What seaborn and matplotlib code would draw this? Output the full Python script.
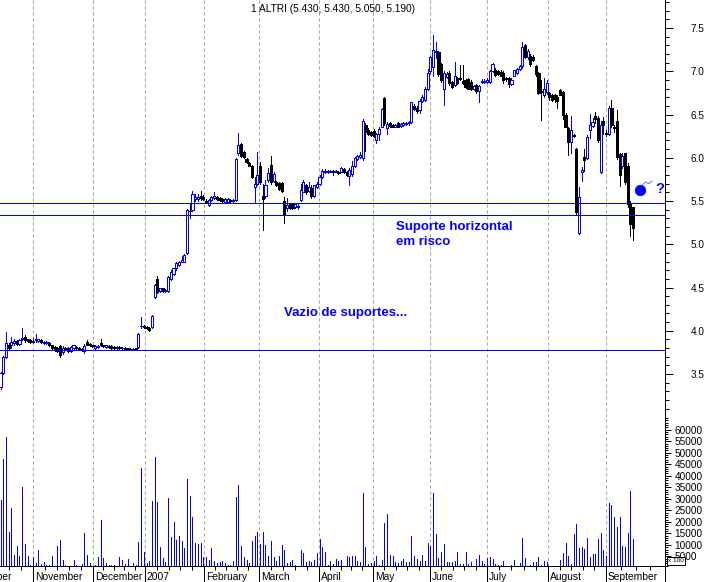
import numpy as np
import pandas as pd
import matplotlib
matplotlib.use("Agg")
import matplotlib.pyplot as plt
import seaborn as sns
from matplotlib.ticker import MultipleLocator, FixedLocator

# ---------------- data (daily OHLC + volume, trading-day index 0..234) ----------------
opens = [
    3.35, 3.51, 3.70, 3.84, 3.84, 3.86, 3.88, 3.85, 3.90, 3.93,
    3.90, 3.89, 3.87, 3.89, 3.88, 3.89, 3.86, 3.86, 3.86, 3.83,
    3.81, 3.80, 3.82, 3.75, 3.80, 3.80, 3.77, 3.80, 3.81, 3.80,
    3.79, 3.77, 3.87, 3.85, 3.83, 3.80, 3.81, 3.86, 3.83, 3.81,
    3.82, 3.82, 3.81, 3.80, 3.81, 3.80, 3.80, 3.80, 3.79, 3.79,
    3.80, 3.81, 4.05, 4.06, 4.04, 4.03, 4.04, 4.39, 4.60, 4.46,
    4.49, 4.46, 4.46, 4.60, 4.66, 4.72, 4.76, 4.80, 4.80, 4.90,
    5.39, 5.40, 5.52, 5.52, 5.56, 5.55, 5.50, 5.45, 5.51, 5.53,
    5.55, 5.54, 5.52, 5.49, 5.49, 5.51, 5.50, 5.51, 6.05, 6.16,
    6.07, 5.99, 5.94, 5.90, 5.66, 5.70, 5.90, 5.56, 5.56, 5.74,
    5.92, 5.73, 5.72, 5.71, 5.71, 5.50, 5.42, 5.47, 5.46, 5.43,
    5.43, 5.51, 5.61, 5.68, 5.62, 5.65, 5.56, 5.66, 5.70, 5.78,
    5.83, 5.84, 5.84, 5.85, 5.84, 5.84, 5.84, 5.87, 5.84, 5.79,
    5.81, 5.90, 5.98, 6.01, 6.00, 6.38, 6.32, 6.30, 6.31, 6.20,
    6.27, 6.36, 6.69, 6.34, 6.40, 6.38, 6.36, 6.40, 6.37, 6.38,
    6.39, 6.40, 6.41, 6.60, 6.58, 6.55, 6.66, 6.67, 6.80, 7.00,
    7.05, 7.22, 7.22, 7.08, 6.80, 6.93, 6.98, 6.88, 6.84, 6.92,
    6.92, 6.89, 6.90, 6.91, 6.88, 6.79, 6.84, 6.77, 6.88, 6.88,
    6.88, 6.88, 7.00, 7.02, 7.00, 6.99, 6.98, 6.92, 6.92, 6.85,
    6.95, 6.98, 7.03, 7.06, 7.30, 7.16, 7.18, 7.17, 7.06, 6.98,
    6.77, 6.72, 6.76, 6.75, 6.73, 6.72, 6.70, 6.78, 6.76, 6.50,
    6.34, 6.18, 6.26, 6.10, 5.13, 5.84, 6.01, 6.00, 6.32, 6.37,
    6.48, 6.46, 5.84, 6.42, 6.29, 6.28, 6.58, 6.36, 6.42, 6.04,
    5.90, 6.05, 5.90, 5.47, 5.43,
]
highs = [
    3.52, 3.71, 3.99, 3.86, 3.93, 3.90, 3.89, 3.90, 4.03, 3.95,
    3.91, 3.90, 3.92, 3.96, 3.91, 3.90, 3.88, 3.88, 3.87, 3.84,
    3.82, 3.81, 3.83, 3.82, 3.81, 3.81, 3.82, 3.84, 3.82, 3.81,
    3.80, 3.85, 3.89, 3.86, 3.84, 3.83, 3.83, 3.90, 3.84, 3.84,
    3.83, 3.83, 3.82, 3.82, 3.82, 3.81, 3.81, 3.80, 3.80, 3.80,
    3.80, 3.97, 4.16, 4.07, 4.05, 4.04, 4.18, 4.54, 4.63, 4.50,
    4.50, 4.48, 4.63, 4.70, 4.73, 4.79, 4.81, 4.86, 4.89, 5.41,
    5.46, 5.62, 5.58, 5.58, 5.62, 5.57, 5.52, 5.52, 5.56, 5.60,
    5.56, 5.55, 5.53, 5.53, 5.53, 5.52, 5.52, 6.00, 6.29, 6.17,
    6.08, 6.00, 5.95, 5.92, 5.78, 6.07, 5.95, 5.70, 5.74, 5.88,
    6.02, 5.84, 5.73, 5.72, 5.72, 5.55, 5.54, 5.48, 5.47, 5.48,
    5.46, 5.70, 5.74, 5.70, 5.72, 5.68, 5.69, 5.72, 5.80, 5.87,
    5.87, 5.86, 5.86, 5.86, 5.86, 5.85, 5.89, 5.88, 5.85, 5.88,
    5.96, 6.01, 6.03, 6.07, 6.45, 6.40, 6.34, 6.31, 6.33, 6.29,
    6.36, 6.58, 6.70, 6.41, 6.41, 6.39, 6.39, 6.41, 6.40, 6.41,
    6.41, 6.42, 6.65, 6.62, 6.60, 6.68, 6.72, 6.82, 7.03, 7.18,
    7.42, 7.34, 7.24, 7.10, 7.00, 6.99, 7.00, 6.89, 7.11, 6.93,
    7.07, 7.07, 6.91, 6.92, 6.90, 6.84, 6.85, 6.84, 6.91, 6.91,
    6.92, 7.02, 7.09, 7.04, 7.01, 7.02, 7.00, 6.93, 6.93, 6.92,
    7.02, 7.04, 7.07, 7.34, 7.32, 7.26, 7.20, 7.19, 7.07, 6.99,
    6.90, 6.92, 6.90, 6.76, 6.74, 6.74, 6.72, 6.80, 6.77, 6.52,
    6.35, 6.48, 6.27, 6.11, 5.66, 5.89, 6.10, 6.26, 6.51, 6.46,
    6.53, 6.48, 6.42, 6.47, 6.32, 6.60, 6.67, 6.38, 6.55, 6.06,
    6.05, 6.06, 5.94, 5.50, 5.43,
]
lows = [
    3.33, 3.50, 3.69, 3.78, 3.80, 3.84, 3.84, 3.84, 3.89, 3.87,
    3.87, 3.86, 3.86, 3.87, 3.87, 3.86, 3.85, 3.85, 3.82, 3.79,
    3.77, 3.76, 3.70, 3.73, 3.78, 3.75, 3.76, 3.79, 3.79, 3.78,
    3.77, 3.74, 3.83, 3.82, 3.81, 3.79, 3.80, 3.82, 3.81, 3.80,
    3.80, 3.79, 3.79, 3.79, 3.79, 3.79, 3.79, 3.78, 3.78, 3.78,
    3.78, 3.80, 4.03, 4.03, 4.02, 4.00, 4.03, 4.38, 4.44, 4.45,
    4.45, 4.45, 4.45, 4.59, 4.65, 4.70, 4.75, 4.79, 4.79, 4.89,
    5.30, 5.38, 5.50, 5.50, 5.51, 5.51, 5.48, 5.44, 5.50, 5.52,
    5.51, 5.50, 5.49, 5.48, 5.48, 5.49, 5.49, 5.50, 6.03, 6.01,
    6.00, 5.94, 5.90, 5.77, 5.48, 5.68, 5.70, 5.16, 5.53, 5.72,
    5.70, 5.72, 5.67, 5.63, 5.61, 5.25, 5.38, 5.41, 5.41, 5.42,
    5.41, 5.50, 5.60, 5.58, 5.60, 5.53, 5.55, 5.65, 5.69, 5.77,
    5.82, 5.82, 5.83, 5.80, 5.83, 5.81, 5.83, 5.82, 5.79, 5.69,
    5.79, 5.89, 5.97, 6.00, 5.97, 6.08, 6.26, 6.25, 6.24, 6.17,
    6.20, 6.35, 6.38, 6.28, 6.36, 6.35, 6.35, 6.35, 6.36, 6.37,
    6.38, 6.38, 6.40, 6.55, 6.52, 6.52, 6.65, 6.66, 6.78, 6.98,
    6.95, 7.15, 6.95, 6.88, 6.61, 6.92, 6.84, 6.81, 6.83, 6.85,
    6.90, 6.85, 6.81, 6.79, 6.78, 6.78, 6.75, 6.65, 6.86, 6.87,
    6.87, 6.87, 6.99, 6.95, 6.96, 6.94, 6.87, 6.89, 6.82, 6.84,
    6.94, 6.97, 7.02, 7.04, 7.15, 7.14, 7.06, 7.12, 6.95, 6.74,
    6.44, 6.70, 6.74, 6.67, 6.66, 6.65, 6.58, 6.72, 6.45, 6.35,
    6.03, 6.05, 6.24, 5.35, 5.12, 5.73, 5.85, 5.98, 6.23, 6.35,
    6.40, 6.18, 5.82, 6.28, 6.25, 6.26, 6.35, 6.30, 5.98, 5.67,
    5.88, 5.70, 5.43, 5.09, 5.05,
]
closes = [
    3.51, 3.70, 3.86, 3.80, 3.87, 3.88, 3.85, 3.89, 3.92, 3.89,
    3.88, 3.87, 3.88, 3.91, 3.90, 3.87, 3.87, 3.87, 3.83, 3.80,
    3.78, 3.77, 3.72, 3.80, 3.79, 3.77, 3.81, 3.83, 3.80, 3.79,
    3.78, 3.82, 3.84, 3.83, 3.82, 3.82, 3.82, 3.83, 3.82, 3.83,
    3.81, 3.80, 3.80, 3.81, 3.80, 3.80, 3.79, 3.79, 3.78, 3.79,
    3.79, 3.96, 4.06, 4.04, 4.03, 4.01, 4.17, 4.53, 4.45, 4.49,
    4.46, 4.47, 4.62, 4.68, 4.72, 4.78, 4.80, 4.82, 4.88, 5.40,
    5.38, 5.58, 5.55, 5.55, 5.54, 5.52, 5.49, 5.51, 5.55, 5.56,
    5.52, 5.51, 5.50, 5.52, 5.52, 5.50, 5.51, 5.99, 6.15, 6.02,
    6.01, 5.95, 5.91, 5.78, 5.70, 5.80, 5.72, 5.52, 5.69, 5.82,
    5.72, 5.81, 5.68, 5.64, 5.62, 5.34, 5.45, 5.42, 5.42, 5.47,
    5.44, 5.63, 5.72, 5.60, 5.66, 5.56, 5.68, 5.70, 5.78, 5.85,
    5.85, 5.85, 5.85, 5.84, 5.85, 5.82, 5.88, 5.83, 5.80, 5.86,
    5.90, 6.00, 6.02, 6.03, 6.42, 6.30, 6.28, 6.26, 6.25, 6.28,
    6.33, 6.56, 6.40, 6.39, 6.37, 6.36, 6.38, 6.36, 6.39, 6.40,
    6.40, 6.41, 6.64, 6.56, 6.54, 6.66, 6.70, 6.80, 6.98, 7.16,
    7.25, 7.24, 6.97, 6.90, 6.98, 6.97, 6.86, 6.82, 6.95, 6.87,
    6.91, 6.86, 6.82, 6.80, 6.79, 6.83, 6.77, 6.83, 6.89, 6.89,
    6.90, 7.00, 7.08, 6.96, 6.97, 6.95, 6.90, 6.91, 6.85, 6.90,
    7.01, 7.03, 7.06, 7.28, 7.16, 7.24, 7.08, 7.13, 6.97, 6.75,
    6.76, 6.80, 6.86, 6.70, 6.67, 6.68, 6.66, 6.73, 6.49, 6.36,
    6.18, 6.32, 6.25, 5.37, 5.55, 5.86, 5.97, 6.24, 6.38, 6.41,
    6.45, 6.20, 6.38, 6.38, 6.27, 6.57, 6.38, 6.34, 6.01, 5.80,
    6.02, 5.72, 5.47, 5.24, 5.19,
]
volumes = [
    29600, 47200, 56900, 15400, 26000, 5700, 9700, 5000, 35000, 10300,
    5400, 1400, 4600, 2100, 7900, 1700, 2400, 1100, 1100, 5400,
    500, 9700, 12100, 3600, 1400, 700, 700, 3600, 1100, 1000,
    1700, 15300, 5700, 2100, 0, 1100, 4600, 20700, 4300, 2100,
    1400, 1400, 1100, 500, 4600, 3600, 1700, 3900, 700, 2000,
    1400, 11200, 43200, 6900, 2100, 2900, 29000, 48300, 28600, 9300,
    4300, 2400, 30300, 13600, 20000, 12100, 14000, 11700, 8600, 38600,
    31200, 22200, 10700, 10300, 10700, 4600, 4600, 3600, 8600, 2900,
    2100, 2600, 3100, 2100, 1400, 1100, 2900, 30700, 36000, 9700,
    4600, 3600, 2100, 11700, 14000, 15700, 10300, 15400, 10000, 5000,
    11900, 4600, 3100, 5400, 10000, 7900, 2100, 2600, 3600, 1100,
    500, 7900, 6400, 2600, 3100, 2600, 3600, 6400, 12400, 8900,
    6900, 1100, 2900, 1700, 3900, 2900, 3600, 700, 5400, 4600,
    5400, 5000, 2900, 2400, 32500, 9300, 1700, 2100, 2900, 5400,
    1100, 3300, 19600, 23500, 5700, 5400, 2400, 2100, 2900, 3900,
    2600, 2400, 14000, 5400, 3900, 2900, 5700, 2900, 10700, 9700,
    32500, 14600, 4300, 6900, 10400, 2400, 2400, 2400, 2900, 7100,
    1700, 1700, 7100, 1700, 2600, 700, 4000, 5700, 2900, 1700,
    4300, 4600, 4000, 1700, 1400, 1400, 3100, 700, 700, 1100,
    3300, 700, 2100, 13200, 4300, 0, 1100, 2400, 2400, 4600,
    1100, 2900, 2400, 700, 0, 0, 0, 3600, 6400, 10700,
    5400, 1700, 14600, 18900, 8600, 9300, 8100, 12900, 4600, 6000,
    6000, 12400, 15000, 7900, 5400, 28300, 27300, 22100, 17600, 22100,
    9700, 9000, 15000, 33300, 12600,
]

month_labels = ["October", "November", "December", "2007", "February", "March",
                "April", "May", "June", "July", "August", "September"]
month_pos = [-10.0, 12.0, 34.2, 53.4, 75.3, 95.6, 117.8, 137.8, 158.9, 180.0, 202.5, 224.0]
end_pos = 245.8

support_levels = [5.477, 5.335, 3.777]
price_ticks = [3.5, 4.0, 4.5, 5.0, 5.5, 6.0, 6.5, 7.0, 7.5]
volume_ticks = [5000, 10000, 15000, 20000, 25000, 30000, 35000, 40000,
                45000, 50000, 55000, 60000]
title_text = "1 ALTRI (5.430, 5.430, 5.050, 5.190)"
note_gap = "Vazio de suportes..."
note_support = ["Suporte horizontal", "em risco"]
bomb_x, bomb_y = [236.5], [5.627]

# ---------------- style ----------------
sns.set_theme(style="white")
plt.rcParams["font.family"] = ["Liberation Sans", "DejaVu Sans"]
BLUE = "#0000ff"
GRID = "#a0a0a0"
LW = 0.72  # one pixel

W, H = 707, 582
fig = plt.figure(figsize=(W / 100, H / 100), dpi=100)
fig.patch.set_facecolor("white")


def fx(px):
    return px / W


def fy(py):
    return 1 - py / H


ax_p = fig.add_axes([0, fy(417), fx(665), fy(0) - fy(417)])
ax_v = fig.add_axes([0, fy(566), fx(665), fy(417) - fy(566)])

n = min(len(opens), len(highs), len(lows), len(closes), len(volumes))
df = pd.DataFrame({"o": opens[:n], "h": highs[:n], "l": lows[:n],
                   "c": closes[:n], "v": volumes[:n]})
df["i"] = np.arange(n)
up = (df["c"] >= df["o"]).to_numpy()
edge = np.where(up, BLUE, "black")
face = np.where(up, "white", "black")

for ax in (ax_p, ax_v):
    ax.set_facecolor("white")
    ax.set_xlim(-0.2, end_pos)
    for s in ("top", "left", "bottom"):
        ax.spines[s].set_visible(False)
    ax.spines["right"].set_color("black")
    ax.spines["right"].set_linewidth(LW)
    for m in month_pos[1:]:
        ax.axvline(m, color=GRID, lw=LW, ls=(0, (3, 3)), zorder=0)

# ---- candles ----
ax_p.vlines(df["i"], df["l"], df["h"], colors=edge, lw=LW, antialiased=False, zorder=2)
body_h = np.maximum((df["c"] - df["o"]).abs().to_numpy(), 0.004)
ax_p.bar(df["i"], body_h, bottom=np.minimum(df["o"], df["c"]), width=0.78,
         color=face, edgecolor=edge, linewidth=LW, antialiased=False, zorder=3)

for lvl in support_levels:
    ax_p.axhline(lvl, color=BLUE, lw=LW, antialiased=False, zorder=4)

ax_p.set_ylim(3.003, 7.824)
ax_p.yaxis.tick_right()
ax_p.yaxis.set_major_locator(FixedLocator([3.0] + price_ticks))
ax_p.set_yticklabels([""] + [f"{t:.1f}" for t in price_ticks])
ax_p.yaxis.set_minor_locator(MultipleLocator(0.1))
ax_p.tick_params(axis="y", which="major", right=True, left=False, length=5.9, width=LW,
                 pad=12.5, labelsize=7.2, colors="black", direction="out")
ax_p.tick_params(axis="y", which="minor", right=True, left=False, length=3.0, width=LW,
                 colors="black", direction="out")
ax_p.tick_params(axis="x", which="both", bottom=False, labelbottom=False)

# bomb + question mark
sns.scatterplot(x=bomb_x, y=bomb_y, ax=ax_p, s=58, color=BLUE, edgecolor=BLUE,
                linewidth=0.5, zorder=6, legend=False)
ax_p.plot([237.6, 238.7, 239.8, 241.0], [5.69, 5.72, 5.70, 5.73], color="#7f86ff",
          lw=0.9, zorder=6)
fig.text(fx(655), fy(189), "?", color=BLUE, fontsize=10.5, fontweight="bold",
         ha="left", va="center")

# ---- volume ----
ax_v.vlines(df["i"], 0, df["v"], colors=BLUE, lw=LW, antialiased=False, zorder=2)
ax_v.set_ylim(850, 65500)
ax_v.spines["bottom"].set_visible(True)
ax_v.spines["bottom"].set_color("black")
ax_v.spines["bottom"].set_linewidth(LW)
ax_v.yaxis.tick_right()
ax_v.yaxis.set_major_locator(FixedLocator(volume_ticks))
ax_v.set_yticklabels([str(t) for t in volume_ticks])
ax_v.yaxis.set_minor_locator(MultipleLocator(1000))
ax_v.tick_params(axis="y", which="major", right=True, left=False, length=4.3, width=LW,
                 pad=2.4, labelsize=7.2, colors="black", direction="out")
ax_v.tick_params(axis="y", which="minor", right=True, left=False, length=2.4, width=LW,
                 colors="black", direction="out")

bounds = month_pos + [end_pos]
minor_x = []
for a, b in zip(bounds[:-1], bounds[1:]):
    k = 4 if b != end_pos else 3
    minor_x.extend(np.linspace(a, b, k + 2)[1:-1])
ax_v.xaxis.set_major_locator(FixedLocator(month_pos[1:] + [end_pos]))
ax_v.xaxis.set_minor_locator(FixedLocator(minor_x))
ax_v.tick_params(axis="x", which="major", bottom=True, length=11.6, width=LW,
                 direction="out", colors="black", labelbottom=False)
ax_v.tick_params(axis="x", which="minor", bottom=True, length=3.0, width=LW,
                 direction="out", colors="black")

for lab, pos in zip(month_labels, month_pos):
    ax_v.annotate(lab, xy=(pos, 0), xycoords=("data", "axes fraction"),
                  xytext=(2, -11), textcoords="offset pixels", ha="left",
                  va="center", fontsize=7.4, color="black", annotation_clip=False)

# ---- texts ----
fig.text(fx(333), fy(9), title_text, ha="center", va="center", fontsize=7.3, color="black")
fig.text(fx(284), fy(313), note_gap, ha="left", va="center", fontsize=9.5,
         fontweight="bold", color=BLUE)
fig.text(fx(396), fy(227), note_support[0], ha="left", va="center", fontsize=9.5,
         fontweight="bold", color=BLUE)
fig.text(fx(396), fy(242), note_support[1], ha="left", va="center", fontsize=9.5,
         fontweight="bold", color=BLUE)
fig.text(fx(668), fy(561), "x 100", ha="left", va="center", fontsize=4.6, color="black",
         zorder=20, bbox=dict(boxstyle="square,pad=0.2", fc="white", ec="black", lw=LW))

fig.savefig("out.png", dpi=100, facecolor="white")
